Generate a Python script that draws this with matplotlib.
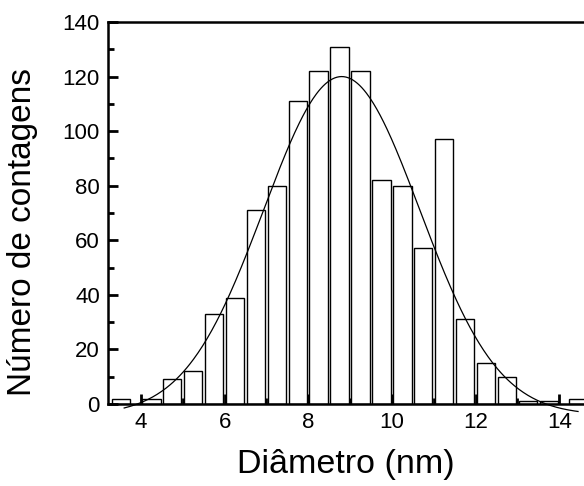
import numpy as np
import matplotlib
matplotlib.use('Agg')
import matplotlib.pyplot as plt
from matplotlib.ticker import MultipleLocator

plt.rcParams['font.family'] = ['Liberation Sans', 'DejaVu Sans']

# centros das barras (nm) e contagens
centros = [3.52, 4.25, 4.75, 5.25, 5.75, 6.25, 6.75, 7.25, 7.75, 8.25, 8.75,
           9.25, 9.75, 10.25, 10.75, 11.25, 11.75, 12.25, 12.75, 13.25, 13.75, 14.45]
contagens = [2, 2, 9, 12, 33, 39, 71, 80, 111, 122, 131,
             122, 82, 80, 57, 97, 31, 15, 10, 1, 1, 2]

# parametros do ajuste gaussiano
y0 = -4.0
xc = 8.8
sigma = 1.865
amp = 124.0
faixa_ajuste = (3.6, 14.45)

fig = plt.figure(figsize=(5.84, 4.86), dpi=100)
ax = fig.add_axes([108.3 / 584, 82 / 486, 476 / 584, 382 / 486])

ax.bar(centros, contagens, width=0.44, color='white', edgecolor='black', linewidth=1.0)

xs = np.linspace(faixa_ajuste[0], faixa_ajuste[1], 400)
ax.plot(xs, y0 + amp * np.exp(-(xs - xc) ** 2 / (2 * sigma ** 2)),
        color='black', linewidth=0.9, clip_on=False)

ax.set_xlim(3.22, 14.6)
ax.set_ylim(0, 140)

ax.spines['right'].set_visible(False)
for s in ['left', 'top', 'bottom']:
    ax.spines[s].set_linewidth(1.8)

ax.xaxis.set_major_locator(MultipleLocator(2))
ax.xaxis.set_minor_locator(MultipleLocator(1))
ax.yaxis.set_major_locator(MultipleLocator(20))
ax.yaxis.set_minor_locator(MultipleLocator(10))
ax.tick_params(which='major', direction='in', length=7, width=2, labelsize=16, pad=6)
ax.tick_params(which='minor', direction='in', length=4, width=2)
ax.tick_params(top=False, right=False, which='both')

ax.set_xlabel('Diâmetro (nm)', fontsize=24.5, labelpad=11)
ax.set_ylabel('Número de contagens', fontsize=24)
ax.yaxis.set_label_coords(-0.148, 0.45)

fig.savefig('out.png', dpi=100)
